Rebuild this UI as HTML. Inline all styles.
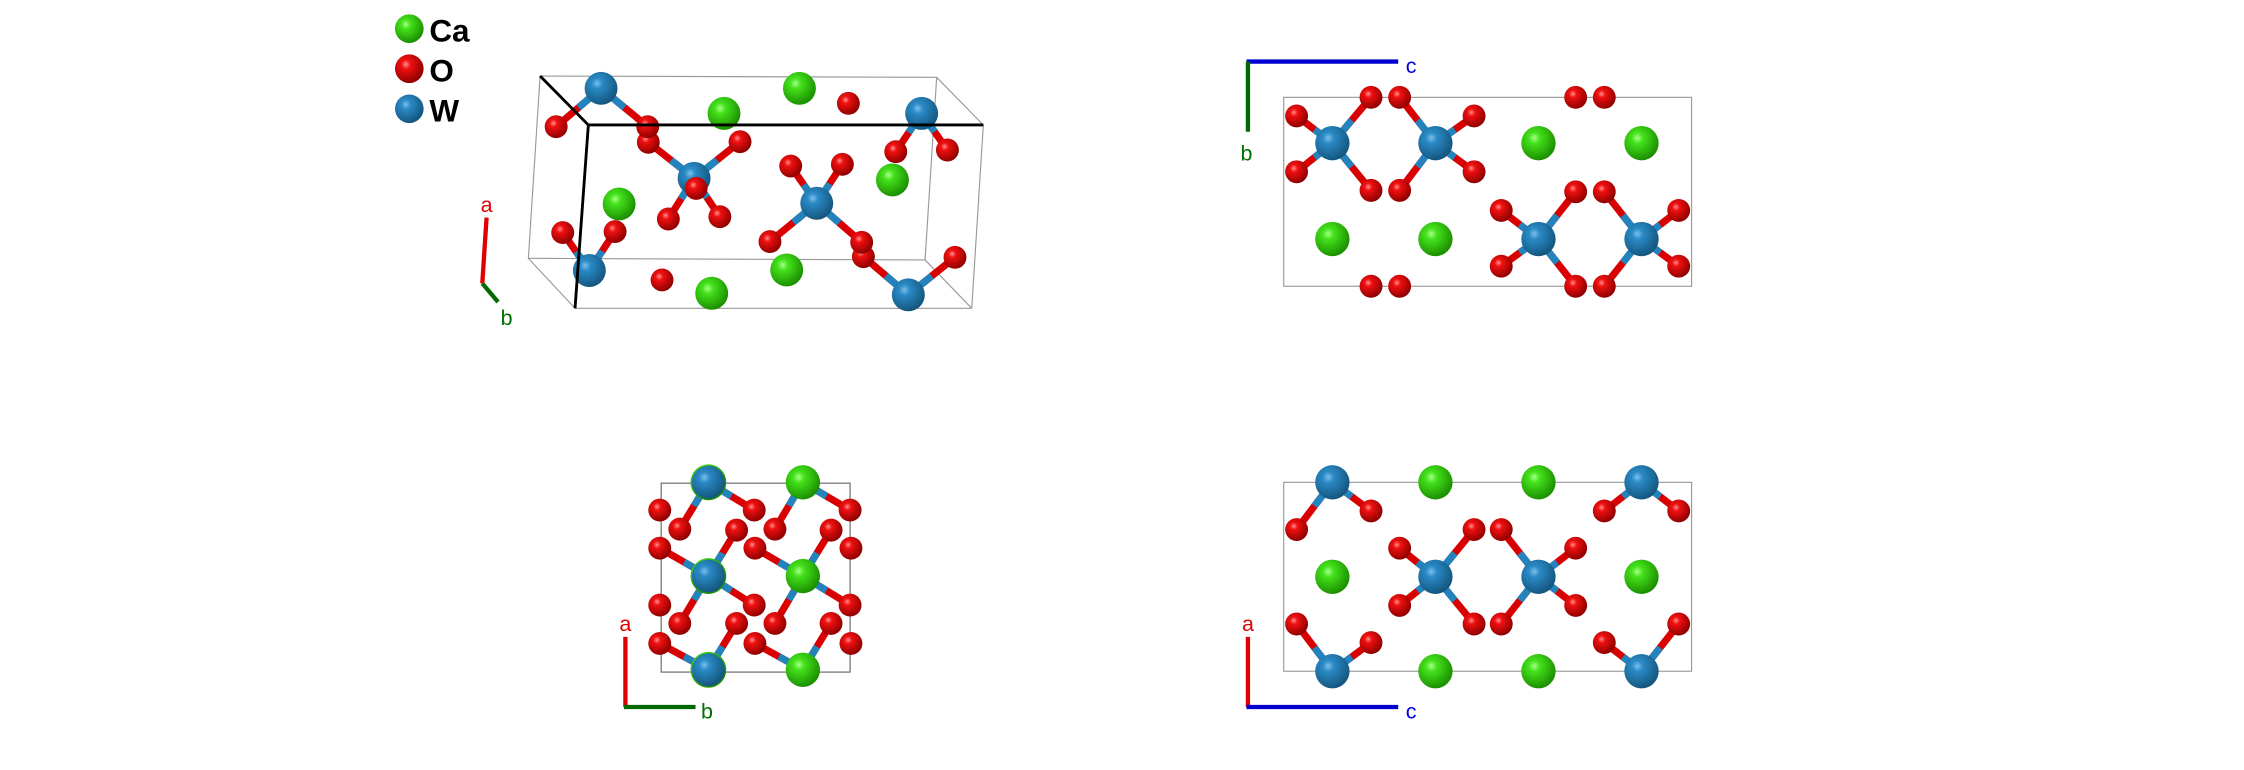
<!DOCTYPE html>
<html><head><meta charset="utf-8"><style>html,body{margin:0;padding:0;background:#fff;}svg{display:block}</style></head>
<body>
<svg id="s" width="2244" height="770" viewBox="0 0 1568 538" xmlns="http://www.w3.org/2000/svg">
<defs>
<radialGradient id="gCa" cx="38%" cy="35%" r="65%"><stop offset="0" stop-color="#a8ff8a"/><stop offset="0.25" stop-color="#44e21c"/><stop offset="1" stop-color="#1c9000"/></radialGradient>
<radialGradient id="gO" cx="38%" cy="35%" r="65%"><stop offset="0" stop-color="#ff9090"/><stop offset="0.25" stop-color="#f01010"/><stop offset="1" stop-color="#900000"/></radialGradient>
<radialGradient id="gW" cx="38%" cy="35%" r="65%"><stop offset="0" stop-color="#7cc0ea"/><stop offset="0.25" stop-color="#2a8ac6"/><stop offset="1" stop-color="#14577f"/></radialGradient>
</defs>
<g id="lines" fill="none"></g>
<g id="mol"></g>
<g font-family="Liberation Sans, DejaVu Sans, sans-serif">
<text x="300" y="29" font-size="22" font-weight="bold">Ca</text>
<text x="300" y="57" font-size="22" font-weight="bold">O</text>
<text x="300" y="85" font-size="22" font-weight="bold">W</text>
<text x="340" y="148" font-size="15" fill="#e00000" text-anchor="middle">a</text>
<text x="354" y="227" font-size="15" fill="#007000" text-anchor="middle">b</text>
<text x="986" y="51" font-size="15" fill="#0000e0" text-anchor="middle">c</text>
<text x="871" y="112" font-size="15" fill="#007000" text-anchor="middle">b</text>
<text x="437" y="441" font-size="15" fill="#e00000" text-anchor="middle">a</text>
<text x="494" y="502" font-size="15" fill="#007000" text-anchor="middle">b</text>
<text x="872" y="441" font-size="15" fill="#e00000" text-anchor="middle">a</text>
<text x="986" y="502" font-size="15" fill="#0000e0" text-anchor="middle">c</text>
</g>
</svg>
<script>
const NS="http://www.w3.org/2000/svg";
const L=document.getElementById('lines'),M=document.getElementById('mol');
function el(p,t,a){const e=document.createElementNS(NS,t);for(const k in a)e.setAttribute(k,a[k]);p.appendChild(e);return e;}
function ln(x1,y1,x2,y2,c,w){el(L,'line',{x1,y1,x2,y2,stroke:c,'stroke-width':w});}
function poly(pts,c,w){for(let i=0;i<pts.length-1;i++)ln(pts[i][0],pts[i][1],pts[i+1][0],pts[i+1][1],c,w);}
const R={Ca:12,O:8,W:12};
function at(t,x,y,r){el(M,'circle',{cx:x,cy:y,r:r||R[t],fill:'url(#g'+t+')'});}
function bond(w,o){const mx=(w[0]+o[0])/2,my=(w[1]+o[1])/2;
 el(M,'line',{x1:w[0],y1:w[1],x2:o[0],y2:o[1],stroke:'#d80000','stroke-width':5});
 el(M,'line',{x1:w[0],y1:w[1],x2:mx,y2:my,stroke:'#2384bd','stroke-width':5});}
const g='#999';
// legend
at('Ca',286,20,10);at('O',286,48,10);at('W',286,76,10);
// panel1 box
poly([[377.4,53.1],[654.5,54],[687.1,87.3],[679,215.4],[401.8,215.4],[369.2,180.5],[377.4,53.1]],g,0.8);
poly([[654.5,54],[646.4,181.6],[679,215.4]],g,0.8);poly([[369.2,180.5],[646.4,181.6]],g,0.8);
// axes panel1
ln(340,152,337,198,'#e00000',3);ln(337,198,348,211,'#006a00',3);
// panel2 box/axes
el(L,'rect',{x:897,y:68,width:285,height:132,stroke:g,'stroke-width':0.8});
ln(871,43,977,43,'#0000d0',3);ln(872,43,872,92,'#006a00',3);
el(L,'rect',{x:462,y:337.6,width:132,height:132,stroke:'#666','stroke-width':0.8});
ln(437,445,437,494,'#e00000',3);ln(436,494,486,494,'#006a00',3);
el(L,'rect',{x:897,y:337,width:285,height:132,stroke:g,'stroke-width':0.8});
ln(872,445,872,494,'#e00000',3);ln(871,494,977,494,'#0000d0',3);

// Panel 1
const P1W=[[420,61.7],[644,79.2],[485,124.6],[570.7,142],[411.8,189],[634.7,206]];
const P1B=[[0,[388.6,88.5]],[0,[452.6,88.5]],[1,[625.9,106]],[1,[662,104.8]],[2,[453,99.4]],[2,[517.1,99]],[2,[467,153]],[2,[503,151.4]],[3,[552.5,116]],[3,[588.6,114.8]],[3,[538,168.8]],[3,[602.1,169.3]],[4,[393.2,162.5]],[4,[429.8,161.8]],[5,[603.3,179.3]],[5,[667.3,179.8]]];
P1B.forEach(b=>bond(P1W[b[0]],b[1]));
[[558.6,61.7],[505.9,79.2],[432.6,142.5],[623.6,125.7],[549.7,188.6],[497.3,204.9]].forEach(p=>at('Ca',p[0],p[1],11.5));
[[388.6,88.5],[453,99.4],[452.6,88.5],[517.1,99],[592.8,72.2],[625.9,106],[662,104.8],[552.5,116],[588.6,114.8],[467,153],[503,151.4],[393.2,162.5],[429.8,161.8],[538,168.8],[603.3,179.3],[602.1,169.3],[667.3,179.8],[462.6,195.6]].forEach(p=>at('O',p[0],p[1],8));
P1W.forEach(p=>at('W',p[0],p[1],11.5));
at('O',486.4,131.6,8);
// black lines over
el(M,'polyline',{points:'377.4,53.1 411.1,87.3 687.1,87.3',fill:'none',stroke:'#000','stroke-width':2});
el(M,'line',{x1:411.1,y1:87.3,x2:401.8,y2:215.4,stroke:'#000','stroke-width':2});

// Panel 2
const P2=[[[931,100],[[906,81],[958,68],[906,120],[958,133]]],[[1003,100],[[978,68],[1030,81],[978,133],[1030,120]]],[[1075,167],[[1049,147],[1101,134],[1049,186],[1101,200]]],[[1147,167],[[1121,134],[1173,147],[1121,200],[1173,186]]]];
P2.forEach(w=>w[1].forEach(o=>bond(w[0],o)));
P2.forEach(w=>w[1].forEach(o=>at('O',o[0],o[1])));
[[1101,68],[1121,68],[958,200],[978,200]].forEach(o=>at('O',o[0],o[1]));
P2.forEach(w=>at('W',w[0][0],w[0][1]));
[[1075,100],[1147,100],[931,167],[1003,167]].forEach(p=>at('Ca',p[0],p[1]));

// Panel 3
const P3=[[[495,337],[[475,369.7],[527,356.4]]],[[561,337],[[541.5,369.7],[594,356.4]]],[[495,402.5],[[461,383],[514.7,370.4],[527,422.8],[475,435.6]]],[[561,402.5],[[527.5,383],[580.7,370.4],[594,422.8],[541.5,435.6]]],[[495,468],[[461,449.6],[514.7,435.6]]],[[561,468],[[527.5,449.6],[580.7,435.6]]]];
P3.forEach(w=>w[1].forEach(o=>bond(w[0],o)));
[[461,356.4],[475,369.7],[527,356.4],[541.5,369.7],[594,356.4],[514.7,370.4],[580.7,370.4],[461,383],[527.5,383],[594.6,383],[461,422.8],[475,435.6],[527,422.8],[541.5,435.6],[594,422.8],[514.7,435.6],[580.7,435.6],[461,449.6],[527.5,449.6],[594.6,449.6]].forEach(o=>at('O',o[0],o[1]));
[[495,337],[495,402.5],[495,468]].forEach(p=>{at('Ca',p[0],p[1],12.5);at('W',p[0],p[1],11.5);});
[[561,337],[561,402.5],[561,468]].forEach(p=>at('Ca',p[0],p[1]));

// Panel 4
const P4=[[[931,337],[[906,370],[958,357]]],[[1147,337],[[1121,357],[1173,357]]],[[1003,403],[[978,383],[1030,370],[978,423],[1030,436]]],[[1075,403],[[1049,370],[1101,383],[1049,436],[1101,423]]],[[931,469],[[906,436],[958,449]]],[[1147,469],[[1121,449],[1173,436]]]];
P4.forEach(w=>w[1].forEach(o=>bond(w[0],o)));
P4.forEach(w=>w[1].forEach(o=>at('O',o[0],o[1])));
P4.forEach(w=>at('W',w[0][0],w[0][1]));
[[1003,337],[1075,337],[931,403],[1147,403],[1003,469],[1075,469]].forEach(p=>at('Ca',p[0],p[1]));
</script>
</body></html>
